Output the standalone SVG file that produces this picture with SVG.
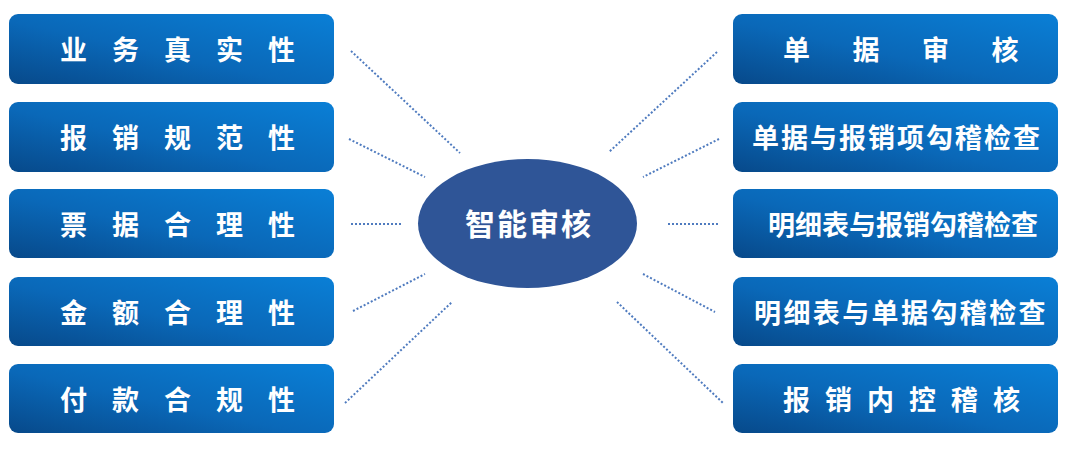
<svg xmlns="http://www.w3.org/2000/svg" width="1069" height="449" viewBox="0 0 1069 449">
<defs>
<linearGradient id="g" x1="0" y1="1" x2="1" y2="0">
<stop offset="0" stop-color="#07498a"/>
<stop offset="0.45" stop-color="#0a68b8"/>
<stop offset="1" stop-color="#0a7fd6"/>
</linearGradient>
<style>
.box{fill:url(#g);}
.t{fill:#fff;font-family:"Noto Sans CJK SC","Noto Sans CJK JP",sans-serif;font-weight:700;font-size:27px;text-anchor:middle;}
.c{stroke:#4f7bbf;stroke-width:2;stroke-dasharray:2 2;fill:none;}
</style>
</defs>
<rect width="1069" height="449" fill="#fff"/>
<g id="connectors">
<line class="c" x1="351" y1="51" x2="460" y2="153"/>
<line class="c" x1="349" y1="139" x2="425" y2="177"/>
<line class="c" x1="351" y1="224" x2="401" y2="224"/>
<line class="c" x1="353" y1="311" x2="425" y2="274"/>
<line class="c" x1="345" y1="403" x2="452" y2="302"/>
<line class="c" x1="717" y1="52" x2="609" y2="152"/>
<line class="c" x1="719" y1="139" x2="643" y2="177"/>
<line class="c" x1="668" y1="224" x2="718" y2="224"/>
<line class="c" x1="643" y1="274" x2="715" y2="312"/>
<line class="c" x1="617" y1="302" x2="723" y2="403"/>
</g>
<g id="center">
<ellipse cx="527.5" cy="223.5" rx="109.5" ry="64.5" fill="#2f5597"/>
<text class="t" x="529" y="235" style="font-size:30px;letter-spacing:2px">智能审核</text>
</g>
<g id="L1"><rect class="box" x="9" y="14" width="325" height="70" rx="9"/><text class="t" x="190" y="60" style="letter-spacing:25px">业务真实性</text></g>
<g id="L2"><rect class="box" x="9" y="102" width="325" height="70" rx="9"/><text class="t" x="190" y="148" style="letter-spacing:25px">报销规范性</text></g>
<g id="L3"><rect class="box" x="9" y="189" width="325" height="69" rx="9"/><text class="t" x="190" y="235" style="letter-spacing:25px">票据合理性</text></g>
<g id="L4"><rect class="box" x="9" y="277" width="325" height="69" rx="9"/><text class="t" x="190" y="323" style="letter-spacing:25px">金额合理性</text></g>
<g id="L5"><rect class="box" x="9" y="364" width="325" height="69" rx="9"/><text class="t" x="190" y="410" style="letter-spacing:25px">付款合规性</text></g>
<g id="R1"><rect class="box" x="733" y="14" width="325" height="70" rx="9"/><text class="t" x="922" y="60" style="letter-spacing:42.5px">单据审核</text></g>
<g id="R2"><rect class="box" x="733" y="102" width="325" height="70" rx="9"/><text class="t" x="897" y="148" style="letter-spacing:2px">单据与报销项勾稽检查</text></g>
<g id="R3"><rect class="box" x="733" y="189" width="325" height="69" rx="9"/><text class="t" x="903" y="235">明细表与报销勾稽检查</text></g>
<g id="R4"><rect class="box" x="733" y="277" width="325" height="69" rx="9"/><text class="t" x="901" y="323" style="letter-spacing:2.4px">明细表与单据勾稽检查</text></g>
<g id="R5"><rect class="box" x="733" y="364" width="325" height="69" rx="9"/><text class="t" x="909" y="410" style="letter-spacing:15px">报销内控稽核</text></g>
</svg>
